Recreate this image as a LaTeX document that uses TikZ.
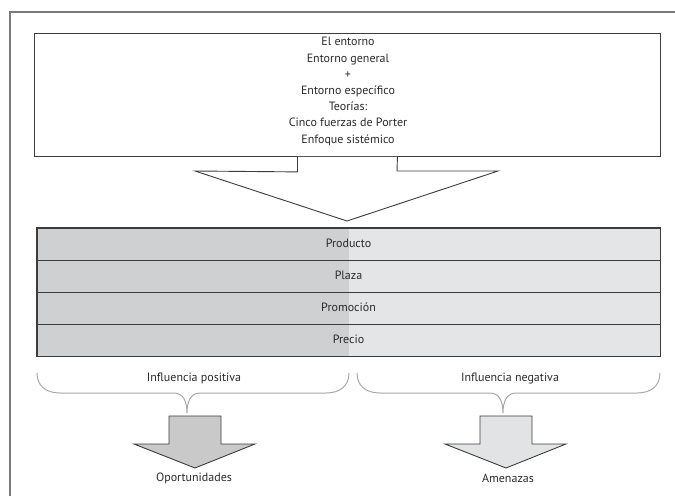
\documentclass[tikz,border=0pt]{standalone}
\usepackage{fontspec}
\setmainfont{PT Sans}
\definecolor{ink}{HTML}{2A2A2A}
\definecolor{framegray}{HTML}{7A7A7A}
\definecolor{edge}{HTML}{3C3C3C}
\definecolor{darkfill}{HTML}{CFD0D2}
\definecolor{lightfill}{HTML}{E4E5E7}
\definecolor{bracegray}{HTML}{A8A8A8}
\definecolor{arrowdark}{HTML}{C9C9CA}
\definecolor{arrowlight}{HTML}{E2E3E4}
\begin{document}
\begin{tikzpicture}[x=1pt,y=-1pt,
  font=\fontsize{12}{16.2}\selectfont, text=ink,
  label/.style={inner sep=0pt, align=center},
  rowbox/.style={draw=edge, line width=0.9pt, minimum width=623pt,
    minimum height=32pt, inner sep=0pt},
  brace/.style={draw=bracegray, line width=1pt},
  fatarrow/.style={draw=edge, line width=0.9pt, line join=miter}]
\useasboundingbox (0,0) rectangle (675,496);

% open page frame
\draw[framegray, line width=1.4pt] (10,496) -- (10,12) -- (675,12);

% environment box
\node[draw=edge, line width=0.9pt, minimum width=626pt, minimum height=123pt,
  inner sep=0pt, anchor=north west] (env) at (34,33) {};
\node[label] (envtext) at (348,91.5) {El entorno\\Entorno general\\+\\Entorno específico\\Teorías:\\Cinco fuerzas de Porter\\Enfoque sistémico};

% big open arrow out of the box
\coordinate (tip) at (347,221);
\fill[white] ([xshift=-50pt,yshift=-3pt]env.south) rectangle ([xshift=50pt]env.south);
\draw[fatarrow, fill=white]
  ([xshift=-50pt]env.south) -- ++(0,15) -- (195,171) -- (tip)
  -- (498,171) -- (397,171) -- ([xshift=50pt]env.south);

% marketing mix table
\fill[darkfill] (37,228) rectangle (349,356);
\fill[lightfill] (349,228) rectangle (660,356);
\node[rowbox] (prod) at (348.5,244) {\raisebox{1.5pt}{Producto}};
\node[rowbox] (plaza) at (348.5,276) {\raisebox{1.5pt}{Plaza}};
\node[rowbox] (promo) at (348.5,308) {\raisebox{1.5pt}{Promoción}};
\node[rowbox] (precio) at (348.5,340) {\raisebox{1.5pt}{Precio}};
\draw[edge, line width=1.2pt] (prod.north west) rectangle (precio.south east);

% braces
\coordinate (posc) at (187,413);
\coordinate (negc) at (503,413);
\draw[brace] (37,373) .. controls (37,386) and (46,393) .. (60,393)
  -- (174,393) .. controls (183,393) and (187,401) .. (posc)
  .. controls (187,401) and (191,393) .. (200,393)
  -- (326,393) .. controls (340,393) and (349,386) .. (349,373);
\draw[brace] (357,373) .. controls (357,386) and (366,393) .. (380,393)
  -- (490,393) .. controls (499,393) and (503,401) .. (negc)
  .. controls (503,401) and (507,393) .. (516,393)
  -- (637,393) .. controls (651,393) and (660,386) .. (660,373);
\node[label] (pos) at (194,378) {Influencia positiva};
\node[label] (neg) at (510,378) {Influencia negativa};

% outcome arrows
\draw[fatarrow, fill=arrowdark]
  (169,416) -- (221,416) -- (221,444) -- (255,444) -- (195,468)
  -- (134,444) -- (169,444) -- cycle;
\draw[fatarrow, fill=arrowlight]
  (480,416) -- (532,416) -- (532,444) -- (566,444) -- (506,468)
  -- (445,444) -- (480,444) -- cycle;
\node[label] (opor) at (194,478) {Oportunidades};
\node[label] (amen) at (508,478) {Amenazas};
\end{tikzpicture}
\end{document}
